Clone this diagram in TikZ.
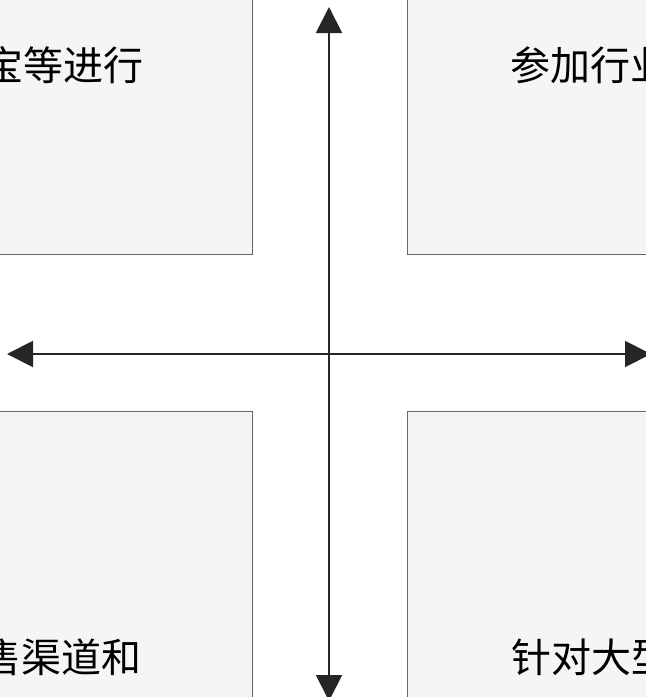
\documentclass[tikz,border=0pt]{standalone}
\usepackage{fontspec}
\newfontfamily\cjk{Noto Sans CJK SC}
\usetikzlibrary{arrows.meta}
\definecolor{boxfill}{HTML}{F5F5F5}
\definecolor{boxline}{HTML}{666666}
\definecolor{axiscol}{HTML}{262626}
\begin{document}
\begin{tikzpicture}[x=1pt,y=-1pt,
  panel/.style={draw=boxline, fill=boxfill, line width=1pt, inner sep=0pt, minimum width=360pt, minimum height=360pt},
  lbl/.style={font=\cjk\fontsize{40}{48}\selectfont, inner sep=0pt, anchor=base west, text=black},
  axisline/.style={draw=axiscol, line width=2pt, {Triangle[length=26pt,width=26pt]}-{Triangle[length=26pt,width=26pt]}}]
\useasboundingbox (0,0) rectangle (646,697);
\clip (0,0) rectangle (646,697);
\fill[white] (0,0) rectangle (646,697);
% panels
\node[panel, anchor=south east] (tlbox) at (252.5,254.5) {};
\node[panel, anchor=south west] (trbox) at (406.5,254.5) {};
\node[panel, anchor=north east] (blbox) at (252.5,410.5) {};
\node[panel, anchor=north west] (brbox) at (406.5,410.5) {};
% labels
\node[lbl] (tltext) at (-17,80) {宝等进行};
\node[lbl] (trtext) at (510,80) {参加行业};
\node[lbl] (bltext) at (-19,672) {售渠道和};
\node[lbl] (brtext) at (511,672) {针对大型};
% axes
\coordinate (left) at (7,354);
\coordinate (right) at (651,354);
\coordinate (top) at (329,7);
\coordinate (bottom) at (329,701);
\draw[axisline] (left) -- (right);
\draw[axisline] (top) -- (bottom);
\end{tikzpicture}
\end{document}
